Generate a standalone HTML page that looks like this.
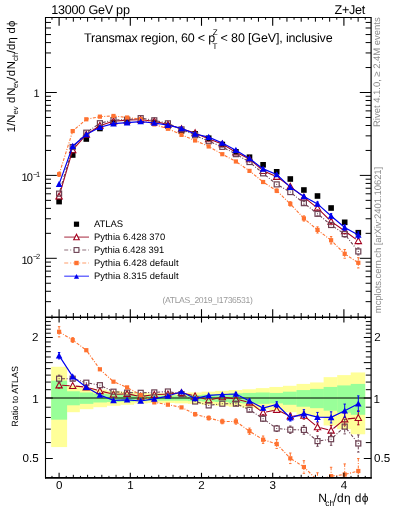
<!DOCTYPE html><html><head><meta charset="utf-8"><style>html,body{margin:0;padding:0;background:#fff;width:393px;height:512px;overflow:hidden}svg{display:block;will-change:transform}text{font-family:"Liberation Sans", sans-serif;text-rendering:geometricPrecision}</style></head><body><svg width="393" height="512" viewBox="0 0 393 512"><rect x="0" y="0" width="393" height="512" fill="#fff"/><defs><clipPath id="cu"><rect x="45.5" y="17.5" width="325.6" height="299.7"/></clipPath><clipPath id="cl"><rect x="45.5" y="317.2" width="325.6" height="160.6"/></clipPath></defs><g clip-path="url(#cl)"><rect x="51.20" y="366.78" width="15.90" height="80.29" fill="#ffff99"/><rect x="66.80" y="385.80" width="13.04" height="26.39" fill="#ffff99"/><rect x="79.54" y="388.11" width="13.86" height="21.05" fill="#ffff99"/><rect x="93.10" y="389.68" width="13.86" height="17.52" fill="#ffff99"/><rect x="106.66" y="390.88" width="13.86" height="14.88" fill="#ffff99"/><rect x="120.22" y="391.69" width="13.86" height="13.12" fill="#ffff99"/><rect x="133.78" y="392.91" width="13.86" height="10.49" fill="#ffff99"/><rect x="147.34" y="393.33" width="13.86" height="9.61" fill="#ffff99"/><rect x="160.90" y="393.33" width="13.86" height="9.61" fill="#ffff99"/><rect x="174.46" y="392.91" width="13.86" height="10.49" fill="#ffff99"/><rect x="188.02" y="392.50" width="13.86" height="11.36" fill="#ffff99"/><rect x="201.58" y="391.69" width="13.86" height="13.12" fill="#ffff99"/><rect x="215.14" y="390.88" width="13.86" height="14.88" fill="#ffff99"/><rect x="228.70" y="390.08" width="13.86" height="16.64" fill="#ffff99"/><rect x="242.26" y="389.28" width="13.86" height="18.40" fill="#ffff99"/><rect x="255.82" y="388.11" width="13.86" height="21.05" fill="#ffff99"/><rect x="269.38" y="386.95" width="13.86" height="23.71" fill="#ffff99"/><rect x="282.94" y="385.80" width="13.86" height="26.39" fill="#ffff99"/><rect x="296.50" y="383.92" width="13.86" height="30.87" fill="#ffff99"/><rect x="310.06" y="382.45" width="13.86" height="34.49" fill="#ffff99"/><rect x="323.62" y="377.14" width="13.86" height="48.34" fill="#ffff99"/><rect x="337.18" y="375.10" width="13.86" height="54.04" fill="#ffff99"/><rect x="350.74" y="372.45" width="14.46" height="61.82" fill="#ffff99"/><rect x="51.20" y="380.64" width="15.90" height="39.05" fill="#99ff99"/><rect x="66.80" y="391.28" width="13.04" height="14.00" fill="#99ff99"/><rect x="79.54" y="392.50" width="13.86" height="11.36" fill="#99ff99"/><rect x="93.10" y="393.74" width="13.86" height="8.74" fill="#99ff99"/><rect x="106.66" y="394.16" width="13.86" height="7.86" fill="#99ff99"/><rect x="120.22" y="394.58" width="13.86" height="6.99" fill="#99ff99"/><rect x="133.78" y="395.00" width="13.86" height="6.11" fill="#99ff99"/><rect x="147.34" y="395.42" width="13.86" height="5.24" fill="#99ff99"/><rect x="160.90" y="395.42" width="13.86" height="5.24" fill="#99ff99"/><rect x="174.46" y="395.42" width="13.86" height="5.24" fill="#99ff99"/><rect x="188.02" y="395.00" width="13.86" height="6.11" fill="#99ff99"/><rect x="201.58" y="394.58" width="13.86" height="6.99" fill="#99ff99"/><rect x="215.14" y="394.16" width="13.86" height="7.86" fill="#99ff99"/><rect x="228.70" y="393.33" width="13.86" height="9.61" fill="#99ff99"/><rect x="242.26" y="392.91" width="13.86" height="10.49" fill="#99ff99"/><rect x="255.82" y="392.50" width="13.86" height="11.36" fill="#99ff99"/><rect x="269.38" y="392.91" width="13.86" height="10.49" fill="#99ff99"/><rect x="282.94" y="391.69" width="13.86" height="13.12" fill="#99ff99"/><rect x="296.50" y="390.08" width="13.86" height="16.64" fill="#99ff99"/><rect x="310.06" y="388.89" width="13.86" height="19.28" fill="#99ff99"/><rect x="323.62" y="386.95" width="13.86" height="23.71" fill="#99ff99"/><rect x="337.18" y="385.42" width="13.86" height="27.28" fill="#99ff99"/><rect x="350.74" y="383.92" width="14.46" height="30.87" fill="#99ff99"/></g><line x1="45.5" y1="398.0" x2="371.1" y2="398.0" stroke="#000" stroke-width="1.0"/><g clip-path="url(#cl)"><path d="M62.10 385.33L69.70 385.67M75.68 386.11L83.32 386.89M89.19 387.99L97.01 390.11M102.81 391.63L110.59 393.57M116.50 394.19L124.10 393.91M130.04 394.38L137.76 395.92M143.67 396.11L151.33 395.09M157.30 394.57L164.90 394.23M170.89 393.81L178.51 393.09M184.42 393.49L192.18 395.31M197.97 396.87L205.83 399.23M211.62 399.43L219.38 397.67M225.26 397.46L232.94 398.64M238.82 399.81L246.58 401.69M251.90 404.20L260.70 410.80M266.04 412.00L273.76 410.40M279.41 411.08L287.59 414.92M293.30 416.07L300.90 415.73M306.19 417.54L315.21 425.16M320.42 427.81L328.18 429.69M333.42 428.49L342.38 421.11M347.68 418.89L355.32 418.11" fill="none" stroke="#a3001e" stroke-width="1.05"/><path d="M57.90 382.32h2.4M57.90 388.08h2.4" stroke="#a3001e" stroke-width="1"/><path d="M248.30 400.65h2.4M248.30 404.15h2.4" stroke="#a3001e" stroke-width="1"/><path d="M261.90 410.52h2.4M261.90 414.68h2.4" stroke="#a3001e" stroke-width="1"/><path d="M275.50 407.32h2.4M275.50 412.28h2.4" stroke="#a3001e" stroke-width="1"/><path d="M289.10 413.23h2.4M289.10 419.17h2.4" stroke="#a3001e" stroke-width="1"/><path d="M303.90 412.06L303.90 412.60M303.90 418.60L303.90 419.14" stroke="#a3001e" stroke-width="1"/><path d="M302.70 412.06h2.4M302.70 419.14h2.4" stroke="#a3001e" stroke-width="1"/><path d="M317.50 422.88L317.50 424.10M317.50 430.10L317.50 431.32" stroke="#a3001e" stroke-width="1"/><path d="M316.30 422.88h2.4M316.30 431.32h2.4" stroke="#a3001e" stroke-width="1"/><path d="M331.10 425.38L331.10 427.40M331.10 433.40L331.10 435.42" stroke="#a3001e" stroke-width="1"/><path d="M329.90 425.38h2.4M329.90 435.42h2.4" stroke="#a3001e" stroke-width="1"/><path d="M344.70 413.25L344.70 416.20M344.70 422.20L344.70 425.15" stroke="#a3001e" stroke-width="1"/><path d="M343.50 413.25h2.4M343.50 425.15h2.4" stroke="#a3001e" stroke-width="1"/><path d="M358.30 410.78L358.30 414.80M358.30 420.80L358.30 424.82" stroke="#a3001e" stroke-width="1"/><path d="M357.10 410.78h2.4M357.10 424.82h2.4" stroke="#a3001e" stroke-width="1"/><polygon points="59.10,382.00 55.90,387.92 62.30,387.92" fill="none" stroke="#a3001e" stroke-width="1.1"/><polygon points="72.70,382.60 69.50,388.52 75.90,388.52" fill="none" stroke="#a3001e" stroke-width="1.1"/><polygon points="86.30,384.00 83.10,389.92 89.50,389.92" fill="none" stroke="#a3001e" stroke-width="1.1"/><polygon points="99.90,387.70 96.70,393.62 103.10,393.62" fill="none" stroke="#a3001e" stroke-width="1.1"/><polygon points="113.50,391.10 110.30,397.02 116.70,397.02" fill="none" stroke="#a3001e" stroke-width="1.1"/><polygon points="127.10,390.60 123.90,396.52 130.30,396.52" fill="none" stroke="#a3001e" stroke-width="1.1"/><polygon points="140.70,393.30 137.50,399.22 143.90,399.22" fill="none" stroke="#a3001e" stroke-width="1.1"/><polygon points="154.30,391.50 151.10,397.42 157.50,397.42" fill="none" stroke="#a3001e" stroke-width="1.1"/><polygon points="167.90,390.90 164.70,396.82 171.10,396.82" fill="none" stroke="#a3001e" stroke-width="1.1"/><polygon points="181.50,389.60 178.30,395.52 184.70,395.52" fill="none" stroke="#a3001e" stroke-width="1.1"/><polygon points="195.10,392.80 191.90,398.72 198.30,398.72" fill="none" stroke="#a3001e" stroke-width="1.1"/><polygon points="208.70,396.90 205.50,402.82 211.90,402.82" fill="none" stroke="#a3001e" stroke-width="1.1"/><polygon points="222.30,393.80 219.10,399.72 225.50,399.72" fill="none" stroke="#a3001e" stroke-width="1.1"/><polygon points="235.90,395.90 232.70,401.82 239.10,401.82" fill="none" stroke="#a3001e" stroke-width="1.1"/><polygon points="249.50,399.20 246.30,405.12 252.70,405.12" fill="none" stroke="#a3001e" stroke-width="1.1"/><polygon points="263.10,409.40 259.90,415.32 266.30,415.32" fill="none" stroke="#a3001e" stroke-width="1.1"/><polygon points="276.70,406.60 273.50,412.52 279.90,412.52" fill="none" stroke="#a3001e" stroke-width="1.1"/><polygon points="290.30,413.00 287.10,418.92 293.50,418.92" fill="none" stroke="#a3001e" stroke-width="1.1"/><polygon points="303.90,412.40 300.70,418.32 307.10,418.32" fill="none" stroke="#a3001e" stroke-width="1.1"/><polygon points="317.50,423.90 314.30,429.82 320.70,429.82" fill="none" stroke="#a3001e" stroke-width="1.1"/><polygon points="331.10,427.20 327.90,433.12 334.30,433.12" fill="none" stroke="#a3001e" stroke-width="1.1"/><polygon points="344.70,416.00 341.50,421.92 347.90,421.92" fill="none" stroke="#a3001e" stroke-width="1.1"/><polygon points="358.30,414.60 355.10,420.52 361.50,420.52" fill="none" stroke="#a3001e" stroke-width="1.1"/><path d="M62.00 378.70L69.80 378.70M75.48 379.52L83.52 381.88M89.15 383.22L97.05 384.68M102.52 386.45L110.88 390.45M116.39 391.89L124.21 392.41M130.00 392.64L137.80 392.76M143.60 392.71L151.40 392.49M157.19 392.21L165.01 391.69M170.75 392.04L178.65 393.56M184.05 395.49L192.55 400.11M197.89 402.30L205.91 404.60M211.58 405.04L219.42 404.06M225.20 403.70L233.00 403.70M238.55 404.87L246.85 408.53M251.92 411.30L260.68 417.10M265.45 420.40L274.35 426.80M279.59 428.75L287.41 429.45M293.20 429.74L301.00 429.86M306.14 431.74L315.26 439.26M320.37 440.70L328.23 439.60M333.23 437.23L342.57 428.57M346.52 428.86L356.48 441.24" fill="none" stroke="#6c4152" stroke-width="1.10" stroke-dasharray="3,1.6,1,1.6"/><path d="M59.10 375.18L59.10 375.80M59.10 381.60L59.10 382.22" stroke="#6c4152" stroke-width="1"/><path d="M57.90 375.18h2.4M57.90 382.22h2.4" stroke="#6c4152" stroke-width="1"/><path d="M71.50 377.06h2.4M71.50 380.34h2.4" stroke="#6c4152" stroke-width="1"/><path d="M234.70 401.88h2.4M234.70 405.52h2.4" stroke="#6c4152" stroke-width="1"/><path d="M248.30 407.56h2.4M248.30 411.84h2.4" stroke="#6c4152" stroke-width="1"/><path d="M261.90 416.16h2.4M261.90 421.24h2.4" stroke="#6c4152" stroke-width="1"/><path d="M276.70 425.47L276.70 425.60M276.70 431.40L276.70 431.53" stroke="#6c4152" stroke-width="1"/><path d="M275.50 425.47h2.4M275.50 431.53h2.4" stroke="#6c4152" stroke-width="1"/><path d="M290.30 426.07L290.30 426.80M290.30 432.60L290.30 433.33" stroke="#6c4152" stroke-width="1"/><path d="M289.10 426.07h2.4M289.10 433.33h2.4" stroke="#6c4152" stroke-width="1"/><path d="M303.90 425.57L303.90 427.00M303.90 432.80L303.90 434.23" stroke="#6c4152" stroke-width="1" stroke-dasharray="3,1.6,1,1.6"/><path d="M302.70 425.57h2.4M302.70 434.23h2.4" stroke="#6c4152" stroke-width="1"/><path d="M317.50 435.94L317.50 438.20M317.50 444.00L317.50 446.26" stroke="#6c4152" stroke-width="1" stroke-dasharray="3,1.6,1,1.6"/><path d="M316.30 435.94h2.4M316.30 446.26h2.4" stroke="#6c4152" stroke-width="1"/><path d="M331.10 433.06L331.10 436.30M331.10 442.10L331.10 445.34" stroke="#6c4152" stroke-width="1" stroke-dasharray="3,1.6,1,1.6"/><path d="M329.90 433.06h2.4M329.90 445.34h2.4" stroke="#6c4152" stroke-width="1"/><path d="M344.70 419.33L344.70 423.70M344.70 429.50L344.70 433.87" stroke="#6c4152" stroke-width="1" stroke-dasharray="3,1.6,1,1.6"/><path d="M343.50 419.33h2.4M343.50 433.87h2.4" stroke="#6c4152" stroke-width="1"/><path d="M358.30 434.92L358.30 440.60M358.30 446.40L358.30 452.08" stroke="#6c4152" stroke-width="1" stroke-dasharray="3,1.6,1,1.6"/><path d="M357.10 434.92h2.4M357.10 452.08h2.4" stroke="#6c4152" stroke-width="1"/><rect x="56.60" y="376.20" width="5.00" height="5.00" fill="none" stroke="#6c4152" stroke-width="1.2"/><rect x="58.60" y="378.20" width="1" height="1" fill="#6c4152"/><rect x="70.20" y="376.20" width="5.00" height="5.00" fill="none" stroke="#6c4152" stroke-width="1.2"/><rect x="72.20" y="378.20" width="1" height="1" fill="#6c4152"/><rect x="83.80" y="380.20" width="5.00" height="5.00" fill="none" stroke="#6c4152" stroke-width="1.2"/><rect x="85.80" y="382.20" width="1" height="1" fill="#6c4152"/><rect x="97.40" y="382.70" width="5.00" height="5.00" fill="none" stroke="#6c4152" stroke-width="1.2"/><rect x="99.40" y="384.70" width="1" height="1" fill="#6c4152"/><rect x="111.00" y="389.20" width="5.00" height="5.00" fill="none" stroke="#6c4152" stroke-width="1.2"/><rect x="113.00" y="391.20" width="1" height="1" fill="#6c4152"/><rect x="124.60" y="390.10" width="5.00" height="5.00" fill="none" stroke="#6c4152" stroke-width="1.2"/><rect x="126.60" y="392.10" width="1" height="1" fill="#6c4152"/><rect x="138.20" y="390.30" width="5.00" height="5.00" fill="none" stroke="#6c4152" stroke-width="1.2"/><rect x="140.20" y="392.30" width="1" height="1" fill="#6c4152"/><rect x="151.80" y="389.90" width="5.00" height="5.00" fill="none" stroke="#6c4152" stroke-width="1.2"/><rect x="153.80" y="391.90" width="1" height="1" fill="#6c4152"/><rect x="165.40" y="389.00" width="5.00" height="5.00" fill="none" stroke="#6c4152" stroke-width="1.2"/><rect x="167.40" y="391.00" width="1" height="1" fill="#6c4152"/><rect x="179.00" y="391.60" width="5.00" height="5.00" fill="none" stroke="#6c4152" stroke-width="1.2"/><rect x="181.00" y="393.60" width="1" height="1" fill="#6c4152"/><rect x="192.60" y="399.00" width="5.00" height="5.00" fill="none" stroke="#6c4152" stroke-width="1.2"/><rect x="194.60" y="401.00" width="1" height="1" fill="#6c4152"/><rect x="206.20" y="402.90" width="5.00" height="5.00" fill="none" stroke="#6c4152" stroke-width="1.2"/><rect x="208.20" y="404.90" width="1" height="1" fill="#6c4152"/><rect x="219.80" y="401.20" width="5.00" height="5.00" fill="none" stroke="#6c4152" stroke-width="1.2"/><rect x="221.80" y="403.20" width="1" height="1" fill="#6c4152"/><rect x="233.40" y="401.20" width="5.00" height="5.00" fill="none" stroke="#6c4152" stroke-width="1.2"/><rect x="235.40" y="403.20" width="1" height="1" fill="#6c4152"/><rect x="247.00" y="407.20" width="5.00" height="5.00" fill="none" stroke="#6c4152" stroke-width="1.2"/><rect x="249.00" y="409.20" width="1" height="1" fill="#6c4152"/><rect x="260.60" y="416.20" width="5.00" height="5.00" fill="none" stroke="#6c4152" stroke-width="1.2"/><rect x="262.60" y="418.20" width="1" height="1" fill="#6c4152"/><rect x="274.20" y="426.00" width="5.00" height="5.00" fill="none" stroke="#6c4152" stroke-width="1.2"/><rect x="276.20" y="428.00" width="1" height="1" fill="#6c4152"/><rect x="287.80" y="427.20" width="5.00" height="5.00" fill="none" stroke="#6c4152" stroke-width="1.2"/><rect x="289.80" y="429.20" width="1" height="1" fill="#6c4152"/><rect x="301.40" y="427.40" width="5.00" height="5.00" fill="none" stroke="#6c4152" stroke-width="1.2"/><rect x="303.40" y="429.40" width="1" height="1" fill="#6c4152"/><rect x="315.00" y="438.60" width="5.00" height="5.00" fill="none" stroke="#6c4152" stroke-width="1.2"/><rect x="317.00" y="440.60" width="1" height="1" fill="#6c4152"/><rect x="328.60" y="436.70" width="5.00" height="5.00" fill="none" stroke="#6c4152" stroke-width="1.2"/><rect x="330.60" y="438.70" width="1" height="1" fill="#6c4152"/><rect x="342.20" y="424.10" width="5.00" height="5.00" fill="none" stroke="#6c4152" stroke-width="1.2"/><rect x="344.20" y="426.10" width="1" height="1" fill="#6c4152"/><rect x="355.80" y="441.00" width="5.00" height="5.00" fill="none" stroke="#6c4152" stroke-width="1.2"/><rect x="357.80" y="443.00" width="1" height="1" fill="#6c4152"/><polyline points="59.10,331.80 72.70,340.00 86.30,350.20 99.90,369.30 113.50,381.70 127.10,387.40 140.70,395.00 154.30,402.40 167.90,404.70 181.50,407.40 195.10,414.20 208.70,418.00 222.30,421.50 235.90,421.50 249.50,431.20 263.10,439.70 276.70,444.00 290.30,458.30 303.90,467.00 317.50,480.30 331.10,476.20 344.70,474.50 358.30,471.00" fill="none" stroke="#ff7230" stroke-width="1.10" stroke-dasharray="3,1.5,1,1.5"/><path d="M59.10 326.68L59.10 331.80M59.10 331.80L59.10 336.92" stroke="#ff7230" stroke-width="1" stroke-dasharray="3,1.5,1,1.5"/><path d="M57.90 326.68h2.4M57.90 336.92h2.4" stroke="#ff7230" stroke-width="1"/><path d="M72.70 337.62L72.70 340.00M72.70 340.00L72.70 342.38" stroke="#ff7230" stroke-width="1"/><path d="M71.50 337.62h2.4M71.50 342.38h2.4" stroke="#ff7230" stroke-width="1"/><path d="M195.10 412.44L195.10 414.20M195.10 414.20L195.10 415.96" stroke="#ff7230" stroke-width="1"/><path d="M193.90 412.44h2.4M193.90 415.96h2.4" stroke="#ff7230" stroke-width="1"/><path d="M208.70 416.02L208.70 418.00M208.70 418.00L208.70 419.98" stroke="#ff7230" stroke-width="1"/><path d="M207.50 416.02h2.4M207.50 419.98h2.4" stroke="#ff7230" stroke-width="1"/><path d="M222.30 419.23L222.30 421.50M222.30 421.50L222.30 423.77" stroke="#ff7230" stroke-width="1"/><path d="M221.10 419.23h2.4M221.10 423.77h2.4" stroke="#ff7230" stroke-width="1"/><path d="M235.90 418.85L235.90 421.50M235.90 421.50L235.90 424.15" stroke="#ff7230" stroke-width="1"/><path d="M234.70 418.85h2.4M234.70 424.15h2.4" stroke="#ff7230" stroke-width="1"/><path d="M249.50 428.08L249.50 431.20M249.50 431.20L249.50 434.32" stroke="#ff7230" stroke-width="1"/><path d="M248.30 428.08h2.4M248.30 434.32h2.4" stroke="#ff7230" stroke-width="1"/><path d="M263.10 436.00L263.10 439.70M263.10 439.70L263.10 443.40" stroke="#ff7230" stroke-width="1"/><path d="M261.90 436.00h2.4M261.90 443.40h2.4" stroke="#ff7230" stroke-width="1"/><path d="M276.70 439.59L276.70 444.00M276.70 444.00L276.70 448.41" stroke="#ff7230" stroke-width="1" stroke-dasharray="3,1.5,1,1.5"/><path d="M275.50 439.59h2.4M275.50 448.41h2.4" stroke="#ff7230" stroke-width="1"/><path d="M290.30 453.03L290.30 458.30M290.30 458.30L290.30 463.57" stroke="#ff7230" stroke-width="1" stroke-dasharray="3,1.5,1,1.5"/><path d="M289.10 453.03h2.4M289.10 463.57h2.4" stroke="#ff7230" stroke-width="1"/><path d="M303.90 460.70L303.90 467.00M303.90 467.00L303.90 473.30" stroke="#ff7230" stroke-width="1" stroke-dasharray="3,1.5,1,1.5"/><path d="M302.70 460.70h2.4M302.70 473.30h2.4" stroke="#ff7230" stroke-width="1"/><path d="M317.50 472.79L317.50 480.30M317.50 480.30L317.50 487.81" stroke="#ff7230" stroke-width="1" stroke-dasharray="3,1.5,1,1.5"/><path d="M316.30 472.79h2.4M316.30 487.81h2.4" stroke="#ff7230" stroke-width="1"/><path d="M331.10 467.27L331.10 476.20M331.10 476.20L331.10 485.13" stroke="#ff7230" stroke-width="1" stroke-dasharray="3,1.5,1,1.5"/><path d="M329.90 467.27h2.4M329.90 485.13h2.4" stroke="#ff7230" stroke-width="1"/><path d="M344.70 463.92L344.70 474.50M344.70 474.50L344.70 485.08" stroke="#ff7230" stroke-width="1" stroke-dasharray="3,1.5,1,1.5"/><path d="M343.50 463.92h2.4M343.50 485.08h2.4" stroke="#ff7230" stroke-width="1"/><path d="M358.30 458.52L358.30 471.00M358.30 471.00L358.30 483.48" stroke="#ff7230" stroke-width="1" stroke-dasharray="3,1.5,1,1.5"/><path d="M357.10 458.52h2.4M357.10 483.48h2.4" stroke="#ff7230" stroke-width="1"/><rect x="57.00" y="329.70" width="4.20" height="4.20" fill="#ff7230"/><rect x="70.60" y="337.90" width="4.20" height="4.20" fill="#ff7230"/><rect x="84.20" y="348.10" width="4.20" height="4.20" fill="#ff7230"/><rect x="97.80" y="367.20" width="4.20" height="4.20" fill="#ff7230"/><rect x="111.40" y="379.60" width="4.20" height="4.20" fill="#ff7230"/><rect x="125.00" y="385.30" width="4.20" height="4.20" fill="#ff7230"/><rect x="138.60" y="392.90" width="4.20" height="4.20" fill="#ff7230"/><rect x="152.20" y="400.30" width="4.20" height="4.20" fill="#ff7230"/><rect x="165.80" y="402.60" width="4.20" height="4.20" fill="#ff7230"/><rect x="179.40" y="405.30" width="4.20" height="4.20" fill="#ff7230"/><rect x="193.00" y="412.10" width="4.20" height="4.20" fill="#ff7230"/><rect x="206.60" y="415.90" width="4.20" height="4.20" fill="#ff7230"/><rect x="220.20" y="419.40" width="4.20" height="4.20" fill="#ff7230"/><rect x="233.80" y="419.40" width="4.20" height="4.20" fill="#ff7230"/><rect x="247.40" y="429.10" width="4.20" height="4.20" fill="#ff7230"/><rect x="261.00" y="437.60" width="4.20" height="4.20" fill="#ff7230"/><rect x="274.60" y="441.90" width="4.20" height="4.20" fill="#ff7230"/><rect x="288.20" y="456.20" width="4.20" height="4.20" fill="#ff7230"/><rect x="301.80" y="464.90" width="4.20" height="4.20" fill="#ff7230"/><rect x="315.40" y="478.20" width="4.20" height="4.20" fill="#ff7230"/><rect x="329.00" y="474.10" width="4.20" height="4.20" fill="#ff7230"/><rect x="342.60" y="472.40" width="4.20" height="4.20" fill="#ff7230"/><rect x="356.20" y="468.90" width="4.20" height="4.20" fill="#ff7230"/><polyline points="59.10,355.70 72.70,376.60 86.30,387.20 99.90,395.00 113.50,400.40 127.10,399.80 140.70,401.00 154.30,398.90 167.90,396.00 181.50,391.80 195.10,398.50 208.70,395.40 222.30,394.50 235.90,394.00 249.50,401.00 263.10,408.00 276.70,404.50 290.30,417.70 303.90,413.60 317.50,417.10 331.10,417.40 344.70,410.70 358.30,403.70" fill="none" stroke="#0000ee" stroke-width="1.20"/><path d="M59.10 352.50L59.10 355.70M59.10 355.70L59.10 358.90" stroke="#0000ee" stroke-width="1"/><path d="M57.90 352.50h2.4M57.90 358.90h2.4" stroke="#0000ee" stroke-width="1"/><path d="M235.90 392.35L235.90 394.00M235.90 394.00L235.90 395.65" stroke="#0000ee" stroke-width="1"/><path d="M234.70 392.35h2.4M234.70 395.65h2.4" stroke="#0000ee" stroke-width="1"/><path d="M249.50 399.05L249.50 401.00M249.50 401.00L249.50 402.95" stroke="#0000ee" stroke-width="1"/><path d="M248.30 399.05h2.4M248.30 402.95h2.4" stroke="#0000ee" stroke-width="1"/><path d="M263.10 405.69L263.10 408.00M263.10 408.00L263.10 410.31" stroke="#0000ee" stroke-width="1"/><path d="M261.90 405.69h2.4M261.90 410.31h2.4" stroke="#0000ee" stroke-width="1"/><path d="M276.70 401.74L276.70 404.50M276.70 404.50L276.70 407.26" stroke="#0000ee" stroke-width="1"/><path d="M275.50 401.74h2.4M275.50 407.26h2.4" stroke="#0000ee" stroke-width="1"/><path d="M290.30 414.40L290.30 417.70M290.30 417.70L290.30 421.00" stroke="#0000ee" stroke-width="1"/><path d="M289.10 414.40h2.4M289.10 421.00h2.4" stroke="#0000ee" stroke-width="1"/><path d="M303.90 409.66L303.90 413.60M303.90 413.60L303.90 417.54" stroke="#0000ee" stroke-width="1"/><path d="M302.70 409.66h2.4M302.70 417.54h2.4" stroke="#0000ee" stroke-width="1"/><path d="M317.50 412.41L317.50 417.10M317.50 417.10L317.50 421.79" stroke="#0000ee" stroke-width="1"/><path d="M316.30 412.41h2.4M316.30 421.79h2.4" stroke="#0000ee" stroke-width="1"/><path d="M331.10 411.82L331.10 417.40M331.10 417.40L331.10 422.98" stroke="#0000ee" stroke-width="1"/><path d="M329.90 411.82h2.4M329.90 422.98h2.4" stroke="#0000ee" stroke-width="1"/><path d="M344.70 404.09L344.70 410.70M344.70 410.70L344.70 417.31" stroke="#0000ee" stroke-width="1"/><path d="M343.50 404.09h2.4M343.50 417.31h2.4" stroke="#0000ee" stroke-width="1"/><path d="M358.30 395.90L358.30 403.70M358.30 403.70L358.30 411.50" stroke="#0000ee" stroke-width="1"/><path d="M357.10 395.90h2.4M357.10 411.50h2.4" stroke="#0000ee" stroke-width="1"/><polygon points="59.10,352.40 55.80,358.50 62.40,358.50" fill="#0000ee"/><polygon points="72.70,373.30 69.40,379.41 76.00,379.41" fill="#0000ee"/><polygon points="86.30,383.90 83.00,390.00 89.60,390.00" fill="#0000ee"/><polygon points="99.90,391.70 96.60,397.81 103.20,397.81" fill="#0000ee"/><polygon points="113.50,397.10 110.20,403.20 116.80,403.20" fill="#0000ee"/><polygon points="127.10,396.50 123.80,402.61 130.40,402.61" fill="#0000ee"/><polygon points="140.70,397.70 137.40,403.81 144.00,403.81" fill="#0000ee"/><polygon points="154.30,395.60 151.00,401.70 157.60,401.70" fill="#0000ee"/><polygon points="167.90,392.70 164.60,398.81 171.20,398.81" fill="#0000ee"/><polygon points="181.50,388.50 178.20,394.61 184.80,394.61" fill="#0000ee"/><polygon points="195.10,395.20 191.80,401.31 198.40,401.31" fill="#0000ee"/><polygon points="208.70,392.10 205.40,398.20 212.00,398.20" fill="#0000ee"/><polygon points="222.30,391.20 219.00,397.31 225.60,397.31" fill="#0000ee"/><polygon points="235.90,390.70 232.60,396.81 239.20,396.81" fill="#0000ee"/><polygon points="249.50,397.70 246.20,403.81 252.80,403.81" fill="#0000ee"/><polygon points="263.10,404.70 259.80,410.81 266.40,410.81" fill="#0000ee"/><polygon points="276.70,401.20 273.40,407.31 280.00,407.31" fill="#0000ee"/><polygon points="290.30,414.40 287.00,420.50 293.60,420.50" fill="#0000ee"/><polygon points="303.90,410.30 300.60,416.41 307.20,416.41" fill="#0000ee"/><polygon points="317.50,413.80 314.20,419.91 320.80,419.91" fill="#0000ee"/><polygon points="331.10,414.10 327.80,420.20 334.40,420.20" fill="#0000ee"/><polygon points="344.70,407.40 341.40,413.50 348.00,413.50" fill="#0000ee"/><polygon points="358.30,400.40 355.00,406.50 361.60,406.50" fill="#0000ee"/></g><g clip-path="url(#cu)"><rect x="56.30" y="198.80" width="5.60" height="5.60" fill="#000"/><rect x="69.90" y="152.20" width="5.60" height="5.60" fill="#000"/><rect x="83.50" y="136.20" width="5.60" height="5.60" fill="#000"/><rect x="97.10" y="125.70" width="5.60" height="5.60" fill="#000"/><rect x="110.70" y="119.90" width="5.60" height="5.60" fill="#000"/><rect x="124.30" y="119.10" width="5.60" height="5.60" fill="#000"/><rect x="137.90" y="117.50" width="5.60" height="5.60" fill="#000"/><rect x="151.50" y="119.80" width="5.60" height="5.60" fill="#000"/><rect x="165.10" y="123.20" width="5.60" height="5.60" fill="#000"/><rect x="178.70" y="128.20" width="5.60" height="5.60" fill="#000"/><rect x="192.30" y="131.00" width="5.60" height="5.60" fill="#000"/><rect x="205.90" y="135.40" width="5.60" height="5.60" fill="#000"/><rect x="219.50" y="141.70" width="5.60" height="5.60" fill="#000"/><rect x="233.10" y="149.00" width="5.60" height="5.60" fill="#000"/><rect x="246.70" y="154.40" width="5.60" height="5.60" fill="#000"/><rect x="260.30" y="162.00" width="5.60" height="5.60" fill="#000"/><rect x="273.90" y="169.00" width="5.60" height="5.60" fill="#000"/><rect x="287.50" y="176.20" width="5.60" height="5.60" fill="#000"/><rect x="301.10" y="187.20" width="5.60" height="5.60" fill="#000"/><rect x="314.70" y="193.20" width="5.60" height="5.60" fill="#000"/><rect x="328.30" y="205.20" width="5.60" height="5.60" fill="#000"/><rect x="341.90" y="219.50" width="5.60" height="5.60" fill="#000"/><rect x="355.50" y="229.90" width="5.60" height="5.60" fill="#000"/><path d="M59.94 193.44L71.86 152.85M74.68 147.72L84.32 136.80M88.80 132.89L97.40 127.22M102.75 124.65L110.65 122.10M116.49 120.95L124.11 120.39M130.10 120.06L137.70 119.79M143.68 120.02L151.32 120.90M157.22 121.92L164.98 123.71M170.75 125.33L178.65 127.92M184.37 129.73L192.23 132.11M197.84 134.20L205.96 137.84M211.51 140.11L219.49 143.05M224.87 145.63L233.33 150.71M238.59 153.59L246.81 157.68M251.77 160.98L260.83 168.85M265.86 172.01L273.94 175.48M279.13 178.43L287.87 184.75M292.65 188.37L301.55 195.40M306.25 199.12L315.15 206.14M319.64 210.10L328.96 219.26M333.54 223.10L342.26 229.30M347.13 232.80L355.87 239.11" fill="none" stroke="#a3001e" stroke-width="1.05"/><path d="M316.30 206.26h2.4M316.30 209.74h2.4" stroke="#a3001e" stroke-width="1"/><path d="M329.90 219.29h2.4M329.90 223.43h2.4" stroke="#a3001e" stroke-width="1"/><path d="M343.50 228.59h2.4M343.50 233.50h2.4" stroke="#a3001e" stroke-width="1"/><path d="M357.10 237.97h2.4M357.10 243.76h2.4" stroke="#a3001e" stroke-width="1"/><polygon points="59.10,193.12 55.90,199.04 62.30,199.04" fill="none" stroke="#a3001e" stroke-width="1.1"/><polygon points="72.70,146.77 69.50,152.69 75.90,152.69" fill="none" stroke="#a3001e" stroke-width="1.1"/><polygon points="86.30,131.35 83.10,137.27 89.50,137.27" fill="none" stroke="#a3001e" stroke-width="1.1"/><polygon points="99.90,122.37 96.70,128.29 103.10,128.29" fill="none" stroke="#a3001e" stroke-width="1.1"/><polygon points="113.50,117.97 110.30,123.89 116.70,123.89" fill="none" stroke="#a3001e" stroke-width="1.1"/><polygon points="127.10,116.97 123.90,122.89 130.30,122.89" fill="none" stroke="#a3001e" stroke-width="1.1"/><polygon points="140.70,116.48 137.50,122.40 143.90,122.40" fill="none" stroke="#a3001e" stroke-width="1.1"/><polygon points="154.30,118.04 151.10,123.96 157.50,123.96" fill="none" stroke="#a3001e" stroke-width="1.1"/><polygon points="167.90,121.19 164.70,127.11 171.10,127.11" fill="none" stroke="#a3001e" stroke-width="1.1"/><polygon points="181.50,125.66 178.30,131.58 184.70,131.58" fill="none" stroke="#a3001e" stroke-width="1.1"/><polygon points="195.10,129.78 191.90,135.70 198.30,135.70" fill="none" stroke="#a3001e" stroke-width="1.1"/><polygon points="208.70,135.87 205.50,141.79 211.90,141.79" fill="none" stroke="#a3001e" stroke-width="1.1"/><polygon points="222.30,140.89 219.10,146.81 225.50,146.81" fill="none" stroke="#a3001e" stroke-width="1.1"/><polygon points="235.90,149.05 232.70,154.97 239.10,154.97" fill="none" stroke="#a3001e" stroke-width="1.1"/><polygon points="249.50,155.81 246.30,161.73 252.70,161.73" fill="none" stroke="#a3001e" stroke-width="1.1"/><polygon points="263.10,167.62 259.90,173.54 266.30,173.54" fill="none" stroke="#a3001e" stroke-width="1.1"/><polygon points="276.70,173.47 273.50,179.39 279.90,179.39" fill="none" stroke="#a3001e" stroke-width="1.1"/><polygon points="290.30,183.31 287.10,189.23 293.50,189.23" fill="none" stroke="#a3001e" stroke-width="1.1"/><polygon points="303.90,194.06 300.70,199.98 307.10,199.98" fill="none" stroke="#a3001e" stroke-width="1.1"/><polygon points="317.50,204.80 314.30,210.72 320.70,210.72" fill="none" stroke="#a3001e" stroke-width="1.1"/><polygon points="331.10,218.16 327.90,224.08 334.30,224.08" fill="none" stroke="#a3001e" stroke-width="1.1"/><polygon points="344.70,227.84 341.50,233.76 347.90,233.76" fill="none" stroke="#a3001e" stroke-width="1.1"/><polygon points="358.30,237.67 355.10,243.59 361.50,243.59" fill="none" stroke="#a3001e" stroke-width="1.1"/><path d="M59.91 190.86L71.89 149.82M74.69 144.94L84.31 134.79M88.68 131.03L97.52 124.88M102.73 122.57L110.67 120.75M116.40 120.01L124.20 119.76M129.98 119.35L137.82 118.48M143.56 118.61L151.44 119.84M157.13 120.92L165.07 122.69M170.55 124.50L178.85 128.21M184.16 130.54L192.44 134.10M197.75 136.42L206.05 140.08M211.38 142.36L219.62 145.75M224.86 148.22L233.34 152.78M238.41 155.60L246.99 160.57M251.73 163.88L260.87 171.48M265.35 175.17L274.45 182.55M279.22 185.81L287.78 190.65M292.55 193.91L301.65 201.32M306.19 204.94L315.21 211.99M319.74 215.62L328.86 223.15M333.51 226.61L342.29 232.48M346.49 236.38L356.51 249.18" fill="none" stroke="#6c4152" stroke-width="1.10" stroke-dasharray="3,1.6,1,1.6"/><path d="M302.70 201.37h2.4M302.70 204.94h2.4" stroke="#6c4152" stroke-width="1"/><path d="M316.30 211.65h2.4M316.30 215.91h2.4" stroke="#6c4152" stroke-width="1"/><path d="M329.90 222.46h2.4M329.90 227.52h2.4" stroke="#6c4152" stroke-width="1"/><path d="M344.70 231.10L344.70 231.20M344.70 237.00L344.70 237.10" stroke="#6c4152" stroke-width="1"/><path d="M343.50 231.10h2.4M343.50 237.10h2.4" stroke="#6c4152" stroke-width="1"/><path d="M358.30 247.93L358.30 248.57M358.30 254.37L358.30 255.00" stroke="#6c4152" stroke-width="1"/><path d="M357.10 247.93h2.4M357.10 255.00h2.4" stroke="#6c4152" stroke-width="1"/><rect x="56.60" y="191.14" width="5.00" height="5.00" fill="none" stroke="#6c4152" stroke-width="1.2"/><rect x="58.60" y="193.14" width="1" height="1" fill="#6c4152"/><rect x="70.20" y="144.54" width="5.00" height="5.00" fill="none" stroke="#6c4152" stroke-width="1.2"/><rect x="72.20" y="146.54" width="1" height="1" fill="#6c4152"/><rect x="83.80" y="130.19" width="5.00" height="5.00" fill="none" stroke="#6c4152" stroke-width="1.2"/><rect x="85.80" y="132.19" width="1" height="1" fill="#6c4152"/><rect x="97.40" y="120.72" width="5.00" height="5.00" fill="none" stroke="#6c4152" stroke-width="1.2"/><rect x="99.40" y="122.72" width="1" height="1" fill="#6c4152"/><rect x="111.00" y="117.60" width="5.00" height="5.00" fill="none" stroke="#6c4152" stroke-width="1.2"/><rect x="113.00" y="119.60" width="1" height="1" fill="#6c4152"/><rect x="124.60" y="117.17" width="5.00" height="5.00" fill="none" stroke="#6c4152" stroke-width="1.2"/><rect x="126.60" y="119.17" width="1" height="1" fill="#6c4152"/><rect x="138.20" y="115.66" width="5.00" height="5.00" fill="none" stroke="#6c4152" stroke-width="1.2"/><rect x="140.20" y="117.66" width="1" height="1" fill="#6c4152"/><rect x="151.80" y="117.79" width="5.00" height="5.00" fill="none" stroke="#6c4152" stroke-width="1.2"/><rect x="153.80" y="119.79" width="1" height="1" fill="#6c4152"/><rect x="165.40" y="120.82" width="5.00" height="5.00" fill="none" stroke="#6c4152" stroke-width="1.2"/><rect x="167.40" y="122.82" width="1" height="1" fill="#6c4152"/><rect x="179.00" y="126.89" width="5.00" height="5.00" fill="none" stroke="#6c4152" stroke-width="1.2"/><rect x="181.00" y="128.89" width="1" height="1" fill="#6c4152"/><rect x="192.60" y="132.74" width="5.00" height="5.00" fill="none" stroke="#6c4152" stroke-width="1.2"/><rect x="194.60" y="134.74" width="1" height="1" fill="#6c4152"/><rect x="206.20" y="138.75" width="5.00" height="5.00" fill="none" stroke="#6c4152" stroke-width="1.2"/><rect x="208.20" y="140.75" width="1" height="1" fill="#6c4152"/><rect x="219.80" y="144.35" width="5.00" height="5.00" fill="none" stroke="#6c4152" stroke-width="1.2"/><rect x="221.80" y="146.35" width="1" height="1" fill="#6c4152"/><rect x="233.40" y="151.65" width="5.00" height="5.00" fill="none" stroke="#6c4152" stroke-width="1.2"/><rect x="235.40" y="153.65" width="1" height="1" fill="#6c4152"/><rect x="247.00" y="159.53" width="5.00" height="5.00" fill="none" stroke="#6c4152" stroke-width="1.2"/><rect x="249.00" y="161.53" width="1" height="1" fill="#6c4152"/><rect x="260.60" y="170.84" width="5.00" height="5.00" fill="none" stroke="#6c4152" stroke-width="1.2"/><rect x="262.60" y="172.84" width="1" height="1" fill="#6c4152"/><rect x="274.20" y="181.88" width="5.00" height="5.00" fill="none" stroke="#6c4152" stroke-width="1.2"/><rect x="276.20" y="183.88" width="1" height="1" fill="#6c4152"/><rect x="287.80" y="189.57" width="5.00" height="5.00" fill="none" stroke="#6c4152" stroke-width="1.2"/><rect x="289.80" y="191.57" width="1" height="1" fill="#6c4152"/><rect x="301.40" y="200.66" width="5.00" height="5.00" fill="none" stroke="#6c4152" stroke-width="1.2"/><rect x="303.40" y="202.66" width="1" height="1" fill="#6c4152"/><rect x="315.00" y="211.28" width="5.00" height="5.00" fill="none" stroke="#6c4152" stroke-width="1.2"/><rect x="317.00" y="213.28" width="1" height="1" fill="#6c4152"/><rect x="328.60" y="222.49" width="5.00" height="5.00" fill="none" stroke="#6c4152" stroke-width="1.2"/><rect x="330.60" y="224.49" width="1" height="1" fill="#6c4152"/><rect x="342.20" y="231.60" width="5.00" height="5.00" fill="none" stroke="#6c4152" stroke-width="1.2"/><rect x="344.20" y="233.60" width="1" height="1" fill="#6c4152"/><rect x="355.80" y="248.97" width="5.00" height="5.00" fill="none" stroke="#6c4152" stroke-width="1.2"/><rect x="357.80" y="250.97" width="1" height="1" fill="#6c4152"/><polyline points="59.10,174.30 72.70,131.08 86.30,119.29 99.90,116.66 113.50,115.98 127.10,117.53 140.70,119.06 154.30,124.41 167.90,128.76 181.50,134.88 195.10,140.48 208.70,146.45 222.30,154.19 235.90,161.49 249.50,170.89 263.10,182.00 276.70,190.77 290.30,203.87 303.90,218.46 317.50,229.94 331.10,240.25 344.70,253.85 358.30,262.81" fill="none" stroke="#ff7230" stroke-width="1.10" stroke-dasharray="3,1.5,1,1.5"/><path d="M59.10 172.18L59.10 174.30M59.10 174.30L59.10 176.41" stroke="#ff7230" stroke-width="1"/><path d="M57.90 172.18h2.4M57.90 176.41h2.4" stroke="#ff7230" stroke-width="1"/><path d="M276.70 188.95L276.70 190.77M276.70 190.77L276.70 192.59" stroke="#ff7230" stroke-width="1"/><path d="M275.50 188.95h2.4M275.50 192.59h2.4" stroke="#ff7230" stroke-width="1"/><path d="M290.30 201.70L290.30 203.87M290.30 203.87L290.30 206.04" stroke="#ff7230" stroke-width="1"/><path d="M289.10 201.70h2.4M289.10 206.04h2.4" stroke="#ff7230" stroke-width="1"/><path d="M303.90 215.86L303.90 218.46M303.90 218.46L303.90 221.06" stroke="#ff7230" stroke-width="1"/><path d="M302.70 215.86h2.4M302.70 221.06h2.4" stroke="#ff7230" stroke-width="1"/><path d="M317.50 226.85L317.50 229.94M317.50 229.94L317.50 233.04" stroke="#ff7230" stroke-width="1"/><path d="M316.30 226.85h2.4M316.30 233.04h2.4" stroke="#ff7230" stroke-width="1"/><path d="M331.10 236.57L331.10 240.25M331.10 240.25L331.10 243.94" stroke="#ff7230" stroke-width="1"/><path d="M329.90 236.57h2.4M329.90 243.94h2.4" stroke="#ff7230" stroke-width="1"/><path d="M344.70 249.49L344.70 253.85M344.70 253.85L344.70 258.21" stroke="#ff7230" stroke-width="1" stroke-dasharray="3,1.5,1,1.5"/><path d="M343.50 249.49h2.4M343.50 258.21h2.4" stroke="#ff7230" stroke-width="1"/><path d="M358.30 257.66L358.30 262.81M358.30 262.81L358.30 267.96" stroke="#ff7230" stroke-width="1" stroke-dasharray="3,1.5,1,1.5"/><path d="M357.10 257.66h2.4M357.10 267.96h2.4" stroke="#ff7230" stroke-width="1"/><rect x="57.00" y="172.20" width="4.20" height="4.20" fill="#ff7230"/><rect x="70.60" y="128.98" width="4.20" height="4.20" fill="#ff7230"/><rect x="84.20" y="117.19" width="4.20" height="4.20" fill="#ff7230"/><rect x="97.80" y="114.56" width="4.20" height="4.20" fill="#ff7230"/><rect x="111.40" y="113.88" width="4.20" height="4.20" fill="#ff7230"/><rect x="125.00" y="115.43" width="4.20" height="4.20" fill="#ff7230"/><rect x="138.60" y="116.96" width="4.20" height="4.20" fill="#ff7230"/><rect x="152.20" y="122.31" width="4.20" height="4.20" fill="#ff7230"/><rect x="165.80" y="126.66" width="4.20" height="4.20" fill="#ff7230"/><rect x="179.40" y="132.78" width="4.20" height="4.20" fill="#ff7230"/><rect x="193.00" y="138.38" width="4.20" height="4.20" fill="#ff7230"/><rect x="206.60" y="144.35" width="4.20" height="4.20" fill="#ff7230"/><rect x="220.20" y="152.09" width="4.20" height="4.20" fill="#ff7230"/><rect x="233.80" y="159.39" width="4.20" height="4.20" fill="#ff7230"/><rect x="247.40" y="168.79" width="4.20" height="4.20" fill="#ff7230"/><rect x="261.00" y="179.90" width="4.20" height="4.20" fill="#ff7230"/><rect x="274.60" y="188.67" width="4.20" height="4.20" fill="#ff7230"/><rect x="288.20" y="201.77" width="4.20" height="4.20" fill="#ff7230"/><rect x="301.80" y="216.36" width="4.20" height="4.20" fill="#ff7230"/><rect x="315.40" y="227.84" width="4.20" height="4.20" fill="#ff7230"/><rect x="329.00" y="238.15" width="4.20" height="4.20" fill="#ff7230"/><rect x="342.60" y="251.75" width="4.20" height="4.20" fill="#ff7230"/><rect x="356.20" y="260.71" width="4.20" height="4.20" fill="#ff7230"/><polyline points="59.10,184.15 72.70,146.17 86.30,134.55 99.90,127.26 113.50,123.69 127.10,122.64 140.70,121.54 154.30,122.97 167.90,125.18 181.50,128.44 195.10,134.01 208.70,137.13 222.30,143.06 235.90,150.15 249.50,158.44 263.10,168.92 276.70,174.48 290.30,187.13 303.90,196.43 317.50,203.88 331.10,216.00 344.70,227.54 358.30,235.05" fill="none" stroke="#0000ee" stroke-width="1.20"/><path d="M303.90 194.81L303.90 196.43M303.90 196.43L303.90 198.06" stroke="#0000ee" stroke-width="1"/><path d="M302.70 194.81h2.4M302.70 198.06h2.4" stroke="#0000ee" stroke-width="1"/><path d="M317.50 201.94L317.50 203.88M317.50 203.88L317.50 205.81" stroke="#0000ee" stroke-width="1"/><path d="M316.30 201.94h2.4M316.30 205.81h2.4" stroke="#0000ee" stroke-width="1"/><path d="M331.10 213.70L331.10 216.00M331.10 216.00L331.10 218.30" stroke="#0000ee" stroke-width="1"/><path d="M329.90 213.70h2.4M329.90 218.30h2.4" stroke="#0000ee" stroke-width="1"/><path d="M344.70 224.81L344.70 227.54M344.70 227.54L344.70 230.26" stroke="#0000ee" stroke-width="1"/><path d="M343.50 224.81h2.4M343.50 230.26h2.4" stroke="#0000ee" stroke-width="1"/><path d="M358.30 231.83L358.30 235.05M358.30 235.05L358.30 238.27" stroke="#0000ee" stroke-width="1"/><path d="M357.10 231.83h2.4M357.10 238.27h2.4" stroke="#0000ee" stroke-width="1"/><polygon points="59.10,180.85 55.80,186.96 62.40,186.96" fill="#0000ee"/><polygon points="72.70,142.87 69.40,148.98 76.00,148.98" fill="#0000ee"/><polygon points="86.30,131.25 83.00,137.35 89.60,137.35" fill="#0000ee"/><polygon points="99.90,123.96 96.60,130.07 103.20,130.07" fill="#0000ee"/><polygon points="113.50,120.39 110.20,126.49 116.80,126.49" fill="#0000ee"/><polygon points="127.10,119.34 123.80,125.45 130.40,125.45" fill="#0000ee"/><polygon points="140.70,118.24 137.40,124.34 144.00,124.34" fill="#0000ee"/><polygon points="154.30,119.67 151.00,125.78 157.60,125.78" fill="#0000ee"/><polygon points="167.90,121.88 164.60,127.98 171.20,127.98" fill="#0000ee"/><polygon points="181.50,125.14 178.20,131.25 184.80,131.25" fill="#0000ee"/><polygon points="195.10,130.71 191.80,136.81 198.40,136.81" fill="#0000ee"/><polygon points="208.70,133.83 205.40,139.93 212.00,139.93" fill="#0000ee"/><polygon points="222.30,139.76 219.00,145.86 225.60,145.86" fill="#0000ee"/><polygon points="235.90,146.85 232.60,152.96 239.20,152.96" fill="#0000ee"/><polygon points="249.50,155.14 246.20,161.24 252.80,161.24" fill="#0000ee"/><polygon points="263.10,165.62 259.80,171.73 266.40,171.73" fill="#0000ee"/><polygon points="276.70,171.18 273.40,177.29 280.00,177.29" fill="#0000ee"/><polygon points="290.30,183.83 287.00,189.93 293.60,189.93" fill="#0000ee"/><polygon points="303.90,193.13 300.60,199.24 307.20,199.24" fill="#0000ee"/><polygon points="317.50,200.58 314.20,206.68 320.80,206.68" fill="#0000ee"/><polygon points="331.10,212.70 327.80,218.81 334.40,218.81" fill="#0000ee"/><polygon points="344.70,224.24 341.40,230.34 348.00,230.34" fill="#0000ee"/><polygon points="358.30,231.75 355.00,237.86 361.60,237.86" fill="#0000ee"/></g><line x1="45.50" y1="17.50" x2="371.10" y2="17.50" stroke="#000" stroke-width="1.10"/><line x1="45.50" y1="17.00" x2="45.50" y2="478.60" stroke="#000" stroke-width="1.10"/><line x1="371.10" y1="17.00" x2="371.10" y2="478.60" stroke="#000" stroke-width="1.20"/><line x1="45.50" y1="317.20" x2="371.10" y2="317.20" stroke="#000" stroke-width="1.50"/><line x1="45.00" y1="477.80" x2="371.70" y2="477.80" stroke="#000" stroke-width="1.70"/><line x1="51.98" y1="17.50" x2="51.98" y2="19.70" stroke="#000" stroke-width="1.00"/><line x1="51.98" y1="317.20" x2="51.98" y2="314.90" stroke="#000" stroke-width="1.00"/><line x1="51.98" y1="317.20" x2="51.98" y2="319.10" stroke="#000" stroke-width="1.00"/><line x1="51.98" y1="477.80" x2="51.98" y2="475.90" stroke="#000" stroke-width="1.00"/><line x1="59.10" y1="17.50" x2="59.10" y2="25.80" stroke="#000" stroke-width="1.10"/><line x1="59.10" y1="317.20" x2="59.10" y2="309.20" stroke="#000" stroke-width="1.10"/><line x1="59.10" y1="317.20" x2="59.10" y2="322.60" stroke="#000" stroke-width="1.10"/><line x1="59.10" y1="477.80" x2="59.10" y2="472.80" stroke="#000" stroke-width="1.10"/><line x1="66.22" y1="17.50" x2="66.22" y2="19.70" stroke="#000" stroke-width="1.00"/><line x1="66.22" y1="317.20" x2="66.22" y2="314.90" stroke="#000" stroke-width="1.00"/><line x1="66.22" y1="317.20" x2="66.22" y2="319.10" stroke="#000" stroke-width="1.00"/><line x1="66.22" y1="477.80" x2="66.22" y2="475.90" stroke="#000" stroke-width="1.00"/><line x1="73.34" y1="17.50" x2="73.34" y2="21.70" stroke="#000" stroke-width="1.00"/><line x1="73.34" y1="317.20" x2="73.34" y2="313.00" stroke="#000" stroke-width="1.00"/><line x1="73.34" y1="317.20" x2="73.34" y2="319.90" stroke="#000" stroke-width="1.00"/><line x1="73.34" y1="477.80" x2="73.34" y2="474.80" stroke="#000" stroke-width="1.00"/><line x1="80.46" y1="17.50" x2="80.46" y2="19.70" stroke="#000" stroke-width="1.00"/><line x1="80.46" y1="317.20" x2="80.46" y2="314.90" stroke="#000" stroke-width="1.00"/><line x1="80.46" y1="317.20" x2="80.46" y2="319.10" stroke="#000" stroke-width="1.00"/><line x1="80.46" y1="477.80" x2="80.46" y2="475.90" stroke="#000" stroke-width="1.00"/><line x1="87.58" y1="17.50" x2="87.58" y2="21.70" stroke="#000" stroke-width="1.00"/><line x1="87.58" y1="317.20" x2="87.58" y2="313.00" stroke="#000" stroke-width="1.00"/><line x1="87.58" y1="317.20" x2="87.58" y2="319.90" stroke="#000" stroke-width="1.00"/><line x1="87.58" y1="477.80" x2="87.58" y2="474.80" stroke="#000" stroke-width="1.00"/><line x1="94.70" y1="17.50" x2="94.70" y2="19.70" stroke="#000" stroke-width="1.00"/><line x1="94.70" y1="317.20" x2="94.70" y2="314.90" stroke="#000" stroke-width="1.00"/><line x1="94.70" y1="317.20" x2="94.70" y2="319.10" stroke="#000" stroke-width="1.00"/><line x1="94.70" y1="477.80" x2="94.70" y2="475.90" stroke="#000" stroke-width="1.00"/><line x1="101.82" y1="17.50" x2="101.82" y2="21.70" stroke="#000" stroke-width="1.00"/><line x1="101.82" y1="317.20" x2="101.82" y2="313.00" stroke="#000" stroke-width="1.00"/><line x1="101.82" y1="317.20" x2="101.82" y2="319.90" stroke="#000" stroke-width="1.00"/><line x1="101.82" y1="477.80" x2="101.82" y2="474.80" stroke="#000" stroke-width="1.00"/><line x1="108.94" y1="17.50" x2="108.94" y2="19.70" stroke="#000" stroke-width="1.00"/><line x1="108.94" y1="317.20" x2="108.94" y2="314.90" stroke="#000" stroke-width="1.00"/><line x1="108.94" y1="317.20" x2="108.94" y2="319.10" stroke="#000" stroke-width="1.00"/><line x1="108.94" y1="477.80" x2="108.94" y2="475.90" stroke="#000" stroke-width="1.00"/><line x1="116.06" y1="17.50" x2="116.06" y2="21.70" stroke="#000" stroke-width="1.00"/><line x1="116.06" y1="317.20" x2="116.06" y2="313.00" stroke="#000" stroke-width="1.00"/><line x1="116.06" y1="317.20" x2="116.06" y2="319.90" stroke="#000" stroke-width="1.00"/><line x1="116.06" y1="477.80" x2="116.06" y2="474.80" stroke="#000" stroke-width="1.00"/><line x1="123.18" y1="17.50" x2="123.18" y2="19.70" stroke="#000" stroke-width="1.00"/><line x1="123.18" y1="317.20" x2="123.18" y2="314.90" stroke="#000" stroke-width="1.00"/><line x1="123.18" y1="317.20" x2="123.18" y2="319.10" stroke="#000" stroke-width="1.00"/><line x1="123.18" y1="477.80" x2="123.18" y2="475.90" stroke="#000" stroke-width="1.00"/><line x1="130.30" y1="17.50" x2="130.30" y2="25.80" stroke="#000" stroke-width="1.10"/><line x1="130.30" y1="317.20" x2="130.30" y2="309.20" stroke="#000" stroke-width="1.10"/><line x1="130.30" y1="317.20" x2="130.30" y2="322.60" stroke="#000" stroke-width="1.10"/><line x1="130.30" y1="477.80" x2="130.30" y2="472.80" stroke="#000" stroke-width="1.10"/><line x1="137.42" y1="17.50" x2="137.42" y2="19.70" stroke="#000" stroke-width="1.00"/><line x1="137.42" y1="317.20" x2="137.42" y2="314.90" stroke="#000" stroke-width="1.00"/><line x1="137.42" y1="317.20" x2="137.42" y2="319.10" stroke="#000" stroke-width="1.00"/><line x1="137.42" y1="477.80" x2="137.42" y2="475.90" stroke="#000" stroke-width="1.00"/><line x1="144.54" y1="17.50" x2="144.54" y2="21.70" stroke="#000" stroke-width="1.00"/><line x1="144.54" y1="317.20" x2="144.54" y2="313.00" stroke="#000" stroke-width="1.00"/><line x1="144.54" y1="317.20" x2="144.54" y2="319.90" stroke="#000" stroke-width="1.00"/><line x1="144.54" y1="477.80" x2="144.54" y2="474.80" stroke="#000" stroke-width="1.00"/><line x1="151.66" y1="17.50" x2="151.66" y2="19.70" stroke="#000" stroke-width="1.00"/><line x1="151.66" y1="317.20" x2="151.66" y2="314.90" stroke="#000" stroke-width="1.00"/><line x1="151.66" y1="317.20" x2="151.66" y2="319.10" stroke="#000" stroke-width="1.00"/><line x1="151.66" y1="477.80" x2="151.66" y2="475.90" stroke="#000" stroke-width="1.00"/><line x1="158.78" y1="17.50" x2="158.78" y2="21.70" stroke="#000" stroke-width="1.00"/><line x1="158.78" y1="317.20" x2="158.78" y2="313.00" stroke="#000" stroke-width="1.00"/><line x1="158.78" y1="317.20" x2="158.78" y2="319.90" stroke="#000" stroke-width="1.00"/><line x1="158.78" y1="477.80" x2="158.78" y2="474.80" stroke="#000" stroke-width="1.00"/><line x1="165.90" y1="17.50" x2="165.90" y2="19.70" stroke="#000" stroke-width="1.00"/><line x1="165.90" y1="317.20" x2="165.90" y2="314.90" stroke="#000" stroke-width="1.00"/><line x1="165.90" y1="317.20" x2="165.90" y2="319.10" stroke="#000" stroke-width="1.00"/><line x1="165.90" y1="477.80" x2="165.90" y2="475.90" stroke="#000" stroke-width="1.00"/><line x1="173.02" y1="17.50" x2="173.02" y2="21.70" stroke="#000" stroke-width="1.00"/><line x1="173.02" y1="317.20" x2="173.02" y2="313.00" stroke="#000" stroke-width="1.00"/><line x1="173.02" y1="317.20" x2="173.02" y2="319.90" stroke="#000" stroke-width="1.00"/><line x1="173.02" y1="477.80" x2="173.02" y2="474.80" stroke="#000" stroke-width="1.00"/><line x1="180.14" y1="17.50" x2="180.14" y2="19.70" stroke="#000" stroke-width="1.00"/><line x1="180.14" y1="317.20" x2="180.14" y2="314.90" stroke="#000" stroke-width="1.00"/><line x1="180.14" y1="317.20" x2="180.14" y2="319.10" stroke="#000" stroke-width="1.00"/><line x1="180.14" y1="477.80" x2="180.14" y2="475.90" stroke="#000" stroke-width="1.00"/><line x1="187.26" y1="17.50" x2="187.26" y2="21.70" stroke="#000" stroke-width="1.00"/><line x1="187.26" y1="317.20" x2="187.26" y2="313.00" stroke="#000" stroke-width="1.00"/><line x1="187.26" y1="317.20" x2="187.26" y2="319.90" stroke="#000" stroke-width="1.00"/><line x1="187.26" y1="477.80" x2="187.26" y2="474.80" stroke="#000" stroke-width="1.00"/><line x1="194.38" y1="17.50" x2="194.38" y2="19.70" stroke="#000" stroke-width="1.00"/><line x1="194.38" y1="317.20" x2="194.38" y2="314.90" stroke="#000" stroke-width="1.00"/><line x1="194.38" y1="317.20" x2="194.38" y2="319.10" stroke="#000" stroke-width="1.00"/><line x1="194.38" y1="477.80" x2="194.38" y2="475.90" stroke="#000" stroke-width="1.00"/><line x1="201.50" y1="17.50" x2="201.50" y2="25.80" stroke="#000" stroke-width="1.10"/><line x1="201.50" y1="317.20" x2="201.50" y2="309.20" stroke="#000" stroke-width="1.10"/><line x1="201.50" y1="317.20" x2="201.50" y2="322.60" stroke="#000" stroke-width="1.10"/><line x1="201.50" y1="477.80" x2="201.50" y2="472.80" stroke="#000" stroke-width="1.10"/><line x1="208.62" y1="17.50" x2="208.62" y2="19.70" stroke="#000" stroke-width="1.00"/><line x1="208.62" y1="317.20" x2="208.62" y2="314.90" stroke="#000" stroke-width="1.00"/><line x1="208.62" y1="317.20" x2="208.62" y2="319.10" stroke="#000" stroke-width="1.00"/><line x1="208.62" y1="477.80" x2="208.62" y2="475.90" stroke="#000" stroke-width="1.00"/><line x1="215.74" y1="17.50" x2="215.74" y2="21.70" stroke="#000" stroke-width="1.00"/><line x1="215.74" y1="317.20" x2="215.74" y2="313.00" stroke="#000" stroke-width="1.00"/><line x1="215.74" y1="317.20" x2="215.74" y2="319.90" stroke="#000" stroke-width="1.00"/><line x1="215.74" y1="477.80" x2="215.74" y2="474.80" stroke="#000" stroke-width="1.00"/><line x1="222.86" y1="17.50" x2="222.86" y2="19.70" stroke="#000" stroke-width="1.00"/><line x1="222.86" y1="317.20" x2="222.86" y2="314.90" stroke="#000" stroke-width="1.00"/><line x1="222.86" y1="317.20" x2="222.86" y2="319.10" stroke="#000" stroke-width="1.00"/><line x1="222.86" y1="477.80" x2="222.86" y2="475.90" stroke="#000" stroke-width="1.00"/><line x1="229.98" y1="17.50" x2="229.98" y2="21.70" stroke="#000" stroke-width="1.00"/><line x1="229.98" y1="317.20" x2="229.98" y2="313.00" stroke="#000" stroke-width="1.00"/><line x1="229.98" y1="317.20" x2="229.98" y2="319.90" stroke="#000" stroke-width="1.00"/><line x1="229.98" y1="477.80" x2="229.98" y2="474.80" stroke="#000" stroke-width="1.00"/><line x1="237.10" y1="17.50" x2="237.10" y2="19.70" stroke="#000" stroke-width="1.00"/><line x1="237.10" y1="317.20" x2="237.10" y2="314.90" stroke="#000" stroke-width="1.00"/><line x1="237.10" y1="317.20" x2="237.10" y2="319.10" stroke="#000" stroke-width="1.00"/><line x1="237.10" y1="477.80" x2="237.10" y2="475.90" stroke="#000" stroke-width="1.00"/><line x1="244.22" y1="17.50" x2="244.22" y2="21.70" stroke="#000" stroke-width="1.00"/><line x1="244.22" y1="317.20" x2="244.22" y2="313.00" stroke="#000" stroke-width="1.00"/><line x1="244.22" y1="317.20" x2="244.22" y2="319.90" stroke="#000" stroke-width="1.00"/><line x1="244.22" y1="477.80" x2="244.22" y2="474.80" stroke="#000" stroke-width="1.00"/><line x1="251.34" y1="17.50" x2="251.34" y2="19.70" stroke="#000" stroke-width="1.00"/><line x1="251.34" y1="317.20" x2="251.34" y2="314.90" stroke="#000" stroke-width="1.00"/><line x1="251.34" y1="317.20" x2="251.34" y2="319.10" stroke="#000" stroke-width="1.00"/><line x1="251.34" y1="477.80" x2="251.34" y2="475.90" stroke="#000" stroke-width="1.00"/><line x1="258.46" y1="17.50" x2="258.46" y2="21.70" stroke="#000" stroke-width="1.00"/><line x1="258.46" y1="317.20" x2="258.46" y2="313.00" stroke="#000" stroke-width="1.00"/><line x1="258.46" y1="317.20" x2="258.46" y2="319.90" stroke="#000" stroke-width="1.00"/><line x1="258.46" y1="477.80" x2="258.46" y2="474.80" stroke="#000" stroke-width="1.00"/><line x1="265.58" y1="17.50" x2="265.58" y2="19.70" stroke="#000" stroke-width="1.00"/><line x1="265.58" y1="317.20" x2="265.58" y2="314.90" stroke="#000" stroke-width="1.00"/><line x1="265.58" y1="317.20" x2="265.58" y2="319.10" stroke="#000" stroke-width="1.00"/><line x1="265.58" y1="477.80" x2="265.58" y2="475.90" stroke="#000" stroke-width="1.00"/><line x1="272.70" y1="17.50" x2="272.70" y2="25.80" stroke="#000" stroke-width="1.10"/><line x1="272.70" y1="317.20" x2="272.70" y2="309.20" stroke="#000" stroke-width="1.10"/><line x1="272.70" y1="317.20" x2="272.70" y2="322.60" stroke="#000" stroke-width="1.10"/><line x1="272.70" y1="477.80" x2="272.70" y2="472.80" stroke="#000" stroke-width="1.10"/><line x1="279.82" y1="17.50" x2="279.82" y2="19.70" stroke="#000" stroke-width="1.00"/><line x1="279.82" y1="317.20" x2="279.82" y2="314.90" stroke="#000" stroke-width="1.00"/><line x1="279.82" y1="317.20" x2="279.82" y2="319.10" stroke="#000" stroke-width="1.00"/><line x1="279.82" y1="477.80" x2="279.82" y2="475.90" stroke="#000" stroke-width="1.00"/><line x1="286.94" y1="17.50" x2="286.94" y2="21.70" stroke="#000" stroke-width="1.00"/><line x1="286.94" y1="317.20" x2="286.94" y2="313.00" stroke="#000" stroke-width="1.00"/><line x1="286.94" y1="317.20" x2="286.94" y2="319.90" stroke="#000" stroke-width="1.00"/><line x1="286.94" y1="477.80" x2="286.94" y2="474.80" stroke="#000" stroke-width="1.00"/><line x1="294.06" y1="17.50" x2="294.06" y2="19.70" stroke="#000" stroke-width="1.00"/><line x1="294.06" y1="317.20" x2="294.06" y2="314.90" stroke="#000" stroke-width="1.00"/><line x1="294.06" y1="317.20" x2="294.06" y2="319.10" stroke="#000" stroke-width="1.00"/><line x1="294.06" y1="477.80" x2="294.06" y2="475.90" stroke="#000" stroke-width="1.00"/><line x1="301.18" y1="17.50" x2="301.18" y2="21.70" stroke="#000" stroke-width="1.00"/><line x1="301.18" y1="317.20" x2="301.18" y2="313.00" stroke="#000" stroke-width="1.00"/><line x1="301.18" y1="317.20" x2="301.18" y2="319.90" stroke="#000" stroke-width="1.00"/><line x1="301.18" y1="477.80" x2="301.18" y2="474.80" stroke="#000" stroke-width="1.00"/><line x1="308.30" y1="17.50" x2="308.30" y2="19.70" stroke="#000" stroke-width="1.00"/><line x1="308.30" y1="317.20" x2="308.30" y2="314.90" stroke="#000" stroke-width="1.00"/><line x1="308.30" y1="317.20" x2="308.30" y2="319.10" stroke="#000" stroke-width="1.00"/><line x1="308.30" y1="477.80" x2="308.30" y2="475.90" stroke="#000" stroke-width="1.00"/><line x1="315.42" y1="17.50" x2="315.42" y2="21.70" stroke="#000" stroke-width="1.00"/><line x1="315.42" y1="317.20" x2="315.42" y2="313.00" stroke="#000" stroke-width="1.00"/><line x1="315.42" y1="317.20" x2="315.42" y2="319.90" stroke="#000" stroke-width="1.00"/><line x1="315.42" y1="477.80" x2="315.42" y2="474.80" stroke="#000" stroke-width="1.00"/><line x1="322.54" y1="17.50" x2="322.54" y2="19.70" stroke="#000" stroke-width="1.00"/><line x1="322.54" y1="317.20" x2="322.54" y2="314.90" stroke="#000" stroke-width="1.00"/><line x1="322.54" y1="317.20" x2="322.54" y2="319.10" stroke="#000" stroke-width="1.00"/><line x1="322.54" y1="477.80" x2="322.54" y2="475.90" stroke="#000" stroke-width="1.00"/><line x1="329.66" y1="17.50" x2="329.66" y2="21.70" stroke="#000" stroke-width="1.00"/><line x1="329.66" y1="317.20" x2="329.66" y2="313.00" stroke="#000" stroke-width="1.00"/><line x1="329.66" y1="317.20" x2="329.66" y2="319.90" stroke="#000" stroke-width="1.00"/><line x1="329.66" y1="477.80" x2="329.66" y2="474.80" stroke="#000" stroke-width="1.00"/><line x1="336.78" y1="17.50" x2="336.78" y2="19.70" stroke="#000" stroke-width="1.00"/><line x1="336.78" y1="317.20" x2="336.78" y2="314.90" stroke="#000" stroke-width="1.00"/><line x1="336.78" y1="317.20" x2="336.78" y2="319.10" stroke="#000" stroke-width="1.00"/><line x1="336.78" y1="477.80" x2="336.78" y2="475.90" stroke="#000" stroke-width="1.00"/><line x1="343.90" y1="17.50" x2="343.90" y2="25.80" stroke="#000" stroke-width="1.10"/><line x1="343.90" y1="317.20" x2="343.90" y2="309.20" stroke="#000" stroke-width="1.10"/><line x1="343.90" y1="317.20" x2="343.90" y2="322.60" stroke="#000" stroke-width="1.10"/><line x1="343.90" y1="477.80" x2="343.90" y2="472.80" stroke="#000" stroke-width="1.10"/><line x1="351.02" y1="17.50" x2="351.02" y2="19.70" stroke="#000" stroke-width="1.00"/><line x1="351.02" y1="317.20" x2="351.02" y2="314.90" stroke="#000" stroke-width="1.00"/><line x1="351.02" y1="317.20" x2="351.02" y2="319.10" stroke="#000" stroke-width="1.00"/><line x1="351.02" y1="477.80" x2="351.02" y2="475.90" stroke="#000" stroke-width="1.00"/><line x1="358.14" y1="17.50" x2="358.14" y2="21.70" stroke="#000" stroke-width="1.00"/><line x1="358.14" y1="317.20" x2="358.14" y2="313.00" stroke="#000" stroke-width="1.00"/><line x1="358.14" y1="317.20" x2="358.14" y2="319.90" stroke="#000" stroke-width="1.00"/><line x1="358.14" y1="477.80" x2="358.14" y2="474.80" stroke="#000" stroke-width="1.00"/><line x1="365.26" y1="17.50" x2="365.26" y2="19.70" stroke="#000" stroke-width="1.00"/><line x1="365.26" y1="317.20" x2="365.26" y2="314.90" stroke="#000" stroke-width="1.00"/><line x1="365.26" y1="317.20" x2="365.26" y2="319.10" stroke="#000" stroke-width="1.00"/><line x1="365.26" y1="477.80" x2="365.26" y2="475.90" stroke="#000" stroke-width="1.00"/><line x1="45.50" y1="301.65" x2="51.00" y2="301.65" stroke="#000" stroke-width="1.00"/><line x1="371.10" y1="301.65" x2="365.60" y2="301.65" stroke="#000" stroke-width="1.00"/><line x1="45.50" y1="291.29" x2="51.00" y2="291.29" stroke="#000" stroke-width="1.00"/><line x1="371.10" y1="291.29" x2="365.60" y2="291.29" stroke="#000" stroke-width="1.00"/><line x1="45.50" y1="283.26" x2="51.00" y2="283.26" stroke="#000" stroke-width="1.00"/><line x1="371.10" y1="283.26" x2="365.60" y2="283.26" stroke="#000" stroke-width="1.00"/><line x1="45.50" y1="276.69" x2="51.00" y2="276.69" stroke="#000" stroke-width="1.00"/><line x1="371.10" y1="276.69" x2="365.60" y2="276.69" stroke="#000" stroke-width="1.00"/><line x1="45.50" y1="271.14" x2="51.00" y2="271.14" stroke="#000" stroke-width="1.00"/><line x1="371.10" y1="271.14" x2="365.60" y2="271.14" stroke="#000" stroke-width="1.00"/><line x1="45.50" y1="266.33" x2="51.00" y2="266.33" stroke="#000" stroke-width="1.00"/><line x1="371.10" y1="266.33" x2="365.60" y2="266.33" stroke="#000" stroke-width="1.00"/><line x1="45.50" y1="262.09" x2="51.00" y2="262.09" stroke="#000" stroke-width="1.00"/><line x1="371.10" y1="262.09" x2="365.60" y2="262.09" stroke="#000" stroke-width="1.00"/><line x1="45.50" y1="258.30" x2="56.80" y2="258.30" stroke="#000" stroke-width="1.00"/><line x1="371.10" y1="258.30" x2="359.80" y2="258.30" stroke="#000" stroke-width="1.00"/><line x1="45.50" y1="233.34" x2="51.00" y2="233.34" stroke="#000" stroke-width="1.00"/><line x1="371.10" y1="233.34" x2="365.60" y2="233.34" stroke="#000" stroke-width="1.00"/><line x1="45.50" y1="218.75" x2="51.00" y2="218.75" stroke="#000" stroke-width="1.00"/><line x1="371.10" y1="218.75" x2="365.60" y2="218.75" stroke="#000" stroke-width="1.00"/><line x1="45.50" y1="208.39" x2="51.00" y2="208.39" stroke="#000" stroke-width="1.00"/><line x1="371.10" y1="208.39" x2="365.60" y2="208.39" stroke="#000" stroke-width="1.00"/><line x1="45.50" y1="200.36" x2="51.00" y2="200.36" stroke="#000" stroke-width="1.00"/><line x1="371.10" y1="200.36" x2="365.60" y2="200.36" stroke="#000" stroke-width="1.00"/><line x1="45.50" y1="193.79" x2="51.00" y2="193.79" stroke="#000" stroke-width="1.00"/><line x1="371.10" y1="193.79" x2="365.60" y2="193.79" stroke="#000" stroke-width="1.00"/><line x1="45.50" y1="188.24" x2="51.00" y2="188.24" stroke="#000" stroke-width="1.00"/><line x1="371.10" y1="188.24" x2="365.60" y2="188.24" stroke="#000" stroke-width="1.00"/><line x1="45.50" y1="183.43" x2="51.00" y2="183.43" stroke="#000" stroke-width="1.00"/><line x1="371.10" y1="183.43" x2="365.60" y2="183.43" stroke="#000" stroke-width="1.00"/><line x1="45.50" y1="179.19" x2="51.00" y2="179.19" stroke="#000" stroke-width="1.00"/><line x1="371.10" y1="179.19" x2="365.60" y2="179.19" stroke="#000" stroke-width="1.00"/><line x1="45.50" y1="175.40" x2="56.80" y2="175.40" stroke="#000" stroke-width="1.00"/><line x1="371.10" y1="175.40" x2="359.80" y2="175.40" stroke="#000" stroke-width="1.00"/><line x1="45.50" y1="150.44" x2="51.00" y2="150.44" stroke="#000" stroke-width="1.00"/><line x1="371.10" y1="150.44" x2="365.60" y2="150.44" stroke="#000" stroke-width="1.00"/><line x1="45.50" y1="135.85" x2="51.00" y2="135.85" stroke="#000" stroke-width="1.00"/><line x1="371.10" y1="135.85" x2="365.60" y2="135.85" stroke="#000" stroke-width="1.00"/><line x1="45.50" y1="125.49" x2="51.00" y2="125.49" stroke="#000" stroke-width="1.00"/><line x1="371.10" y1="125.49" x2="365.60" y2="125.49" stroke="#000" stroke-width="1.00"/><line x1="45.50" y1="117.46" x2="51.00" y2="117.46" stroke="#000" stroke-width="1.00"/><line x1="371.10" y1="117.46" x2="365.60" y2="117.46" stroke="#000" stroke-width="1.00"/><line x1="45.50" y1="110.89" x2="51.00" y2="110.89" stroke="#000" stroke-width="1.00"/><line x1="371.10" y1="110.89" x2="365.60" y2="110.89" stroke="#000" stroke-width="1.00"/><line x1="45.50" y1="105.34" x2="51.00" y2="105.34" stroke="#000" stroke-width="1.00"/><line x1="371.10" y1="105.34" x2="365.60" y2="105.34" stroke="#000" stroke-width="1.00"/><line x1="45.50" y1="100.53" x2="51.00" y2="100.53" stroke="#000" stroke-width="1.00"/><line x1="371.10" y1="100.53" x2="365.60" y2="100.53" stroke="#000" stroke-width="1.00"/><line x1="45.50" y1="96.29" x2="51.00" y2="96.29" stroke="#000" stroke-width="1.00"/><line x1="371.10" y1="96.29" x2="365.60" y2="96.29" stroke="#000" stroke-width="1.00"/><line x1="45.50" y1="92.50" x2="56.80" y2="92.50" stroke="#000" stroke-width="1.00"/><line x1="371.10" y1="92.50" x2="359.80" y2="92.50" stroke="#000" stroke-width="1.00"/><line x1="45.50" y1="67.54" x2="51.00" y2="67.54" stroke="#000" stroke-width="1.00"/><line x1="371.10" y1="67.54" x2="365.60" y2="67.54" stroke="#000" stroke-width="1.00"/><line x1="45.50" y1="52.95" x2="51.00" y2="52.95" stroke="#000" stroke-width="1.00"/><line x1="371.10" y1="52.95" x2="365.60" y2="52.95" stroke="#000" stroke-width="1.00"/><line x1="45.50" y1="42.59" x2="51.00" y2="42.59" stroke="#000" stroke-width="1.00"/><line x1="371.10" y1="42.59" x2="365.60" y2="42.59" stroke="#000" stroke-width="1.00"/><line x1="45.50" y1="34.56" x2="51.00" y2="34.56" stroke="#000" stroke-width="1.00"/><line x1="371.10" y1="34.56" x2="365.60" y2="34.56" stroke="#000" stroke-width="1.00"/><line x1="45.50" y1="27.99" x2="51.00" y2="27.99" stroke="#000" stroke-width="1.00"/><line x1="371.10" y1="27.99" x2="365.60" y2="27.99" stroke="#000" stroke-width="1.00"/><line x1="45.50" y1="22.44" x2="51.00" y2="22.44" stroke="#000" stroke-width="1.00"/><line x1="371.10" y1="22.44" x2="365.60" y2="22.44" stroke="#000" stroke-width="1.00"/><line x1="45.50" y1="458.51" x2="52.80" y2="458.51" stroke="#000" stroke-width="1.00"/><line x1="371.10" y1="458.51" x2="363.80" y2="458.51" stroke="#000" stroke-width="1.00"/><line x1="45.50" y1="442.59" x2="50.80" y2="442.59" stroke="#000" stroke-width="1.00"/><line x1="371.10" y1="442.59" x2="365.80" y2="442.59" stroke="#000" stroke-width="1.00"/><line x1="45.50" y1="429.14" x2="50.80" y2="429.14" stroke="#000" stroke-width="1.00"/><line x1="371.10" y1="429.14" x2="365.80" y2="429.14" stroke="#000" stroke-width="1.00"/><line x1="45.50" y1="417.48" x2="50.80" y2="417.48" stroke="#000" stroke-width="1.00"/><line x1="371.10" y1="417.48" x2="365.80" y2="417.48" stroke="#000" stroke-width="1.00"/><line x1="45.50" y1="407.20" x2="50.80" y2="407.20" stroke="#000" stroke-width="1.00"/><line x1="371.10" y1="407.20" x2="365.80" y2="407.20" stroke="#000" stroke-width="1.00"/><line x1="45.50" y1="398.00" x2="52.80" y2="398.00" stroke="#000" stroke-width="1.00"/><line x1="371.10" y1="398.00" x2="363.80" y2="398.00" stroke="#000" stroke-width="1.00"/><line x1="45.50" y1="389.68" x2="50.80" y2="389.68" stroke="#000" stroke-width="1.00"/><line x1="371.10" y1="389.68" x2="365.80" y2="389.68" stroke="#000" stroke-width="1.00"/><line x1="45.50" y1="382.08" x2="50.80" y2="382.08" stroke="#000" stroke-width="1.00"/><line x1="371.10" y1="382.08" x2="365.80" y2="382.08" stroke="#000" stroke-width="1.00"/><line x1="45.50" y1="375.10" x2="50.80" y2="375.10" stroke="#000" stroke-width="1.00"/><line x1="371.10" y1="375.10" x2="365.80" y2="375.10" stroke="#000" stroke-width="1.00"/><line x1="45.50" y1="368.63" x2="50.80" y2="368.63" stroke="#000" stroke-width="1.00"/><line x1="371.10" y1="368.63" x2="365.80" y2="368.63" stroke="#000" stroke-width="1.00"/><line x1="45.50" y1="362.61" x2="52.80" y2="362.61" stroke="#000" stroke-width="1.00"/><line x1="371.10" y1="362.61" x2="363.80" y2="362.61" stroke="#000" stroke-width="1.00"/><line x1="45.50" y1="356.97" x2="50.80" y2="356.97" stroke="#000" stroke-width="1.00"/><line x1="371.10" y1="356.97" x2="365.80" y2="356.97" stroke="#000" stroke-width="1.00"/><line x1="45.50" y1="351.68" x2="50.80" y2="351.68" stroke="#000" stroke-width="1.00"/><line x1="371.10" y1="351.68" x2="365.80" y2="351.68" stroke="#000" stroke-width="1.00"/><line x1="45.50" y1="346.69" x2="50.80" y2="346.69" stroke="#000" stroke-width="1.00"/><line x1="371.10" y1="346.69" x2="365.80" y2="346.69" stroke="#000" stroke-width="1.00"/><line x1="45.50" y1="341.97" x2="50.80" y2="341.97" stroke="#000" stroke-width="1.00"/><line x1="371.10" y1="341.97" x2="365.80" y2="341.97" stroke="#000" stroke-width="1.00"/><line x1="45.50" y1="337.49" x2="52.80" y2="337.49" stroke="#000" stroke-width="1.00"/><line x1="371.10" y1="337.49" x2="363.80" y2="337.49" stroke="#000" stroke-width="1.00"/><line x1="45.50" y1="333.23" x2="50.80" y2="333.23" stroke="#000" stroke-width="1.00"/><line x1="371.10" y1="333.23" x2="365.80" y2="333.23" stroke="#000" stroke-width="1.00"/><line x1="45.50" y1="329.17" x2="50.80" y2="329.17" stroke="#000" stroke-width="1.00"/><line x1="371.10" y1="329.17" x2="365.80" y2="329.17" stroke="#000" stroke-width="1.00"/><line x1="45.50" y1="325.29" x2="50.80" y2="325.29" stroke="#000" stroke-width="1.00"/><line x1="371.10" y1="325.29" x2="365.80" y2="325.29" stroke="#000" stroke-width="1.00"/><line x1="45.50" y1="321.58" x2="50.80" y2="321.58" stroke="#000" stroke-width="1.00"/><line x1="371.10" y1="321.58" x2="365.80" y2="321.58" stroke="#000" stroke-width="1.00"/><text x="51.30" y="13.90" font-size="12.60" fill="#000" textLength="78.60" lengthAdjust="spacing">13000 GeV pp</text><text x="334.60" y="13.80" font-size="12.60" fill="#000" textLength="30.60" lengthAdjust="spacing">Z+Jet</text><text x="84.00" y="42.00" font-size="12.50" fill="#000" textLength="131.20" lengthAdjust="spacing">Transmax region, 60 &lt; p</text><text x="212.80" y="35.40" font-size="8.00" text-anchor="start" fill="#000">Z</text><text x="212.60" y="48.70" font-size="8.00" text-anchor="start" fill="#000">T</text><text x="220.60" y="42.00" font-size="12.50" fill="#000" textLength="112.00" lengthAdjust="spacing">&lt; 80 [GeV], inclusive</text><text x="39.60" y="97.00" font-size="11.00" text-anchor="end" fill="#000">1</text><text x="21.40" y="181.20" font-size="11.10" fill="#000" textLength="11.40" lengthAdjust="spacing">10</text><text x="32.90" y="176.60" font-size="7.50" fill="#000" textLength="7.20" lengthAdjust="spacing">−1</text><text x="21.40" y="264.10" font-size="11.10" fill="#000" textLength="11.40" lengthAdjust="spacing">10</text><text x="32.90" y="259.30" font-size="7.50" fill="#000" textLength="7.20" lengthAdjust="spacing">−2</text><text x="38.40" y="341.00" font-size="11.60" text-anchor="end" fill="#000">2</text><text x="38.70" y="402.60" font-size="11.60" text-anchor="end" fill="#000">1</text><text x="38.60" y="462.10" font-size="11.60" text-anchor="end" fill="#000">0.5</text><text x="374.20" y="341.00" font-size="11.60" text-anchor="start" fill="#000">2</text><text x="373.60" y="402.80" font-size="11.60" text-anchor="start" fill="#000">1</text><text x="374.00" y="462.10" font-size="11.60" text-anchor="start" fill="#000">0.5</text><text x="59.20" y="489.30" font-size="11.60" text-anchor="middle" fill="#000">0</text><text x="130.40" y="489.30" font-size="11.60" text-anchor="middle" fill="#000">1</text><text x="201.60" y="489.30" font-size="11.60" text-anchor="middle" fill="#000">2</text><text x="272.80" y="489.30" font-size="11.60" text-anchor="middle" fill="#000">3</text><text x="344.00" y="489.30" font-size="11.60" text-anchor="middle" fill="#000">4</text><text x="318.30" y="502.30" font-size="12.00" text-anchor="start" fill="#000">N</text><text x="325.20" y="506.40" font-size="8.40" text-anchor="start" fill="#000">ch</text><text x="333.40" y="502.30" font-size="12.00" fill="#000" textLength="35.00" lengthAdjust="spacing">/dη dϕ</text><g transform="translate(14.8,131.5) rotate(-90)"><text x="-0.80" y="0.00" font-size="11.40" fill="#000" textLength="17.90" lengthAdjust="spacing">1/N</text><text x="16.90" y="3.10" font-size="7.80" text-anchor="start" fill="#000">ev</text><text x="28.40" y="0.00" font-size="11.40" fill="#000" textLength="15.60" lengthAdjust="spacing">dN</text><text x="43.40" y="3.10" font-size="7.80" text-anchor="start" fill="#000">ev</text><text x="51.40" y="0.00" font-size="11.40" fill="#000" textLength="19.00" lengthAdjust="spacing">/dN</text><text x="70.60" y="3.10" font-size="7.80" text-anchor="start" fill="#000">ch</text><text x="78.20" y="0.00" font-size="11.40" fill="#000" textLength="32.80" lengthAdjust="spacing">/dη dϕ</text></g><g transform="translate(18.0,426.8) rotate(-90)"><text x="0.00" y="0.00" font-size="9.00" fill="#000" textLength="60.90" lengthAdjust="spacing">Ratio to ATLAS</text></g><g transform="translate(380.4,127.0) rotate(-90)"><text x="0.00" y="0.00" font-size="9.50" fill="#8c8c8c" textLength="109.70" lengthAdjust="spacing">Rivet 4.1.0, ≥ 2.4M events</text></g><g transform="translate(380.6,313.2) rotate(-90)"><text x="0.00" y="0.00" font-size="9.50" fill="#8c8c8c" textLength="146.40" lengthAdjust="spacing">mcplots.cern.ch [arXiv:2401.10621]</text></g><text x="162.40" y="302.60" font-size="8.60" fill="#9a9a9a" textLength="90.40" lengthAdjust="spacing">(ATLAS_2019_I1736531)</text><rect x="73.90" y="221.60" width="5.20" height="5.20" fill="#000"/><text x="93.90" y="226.90" font-size="9.50" fill="#000" textLength="29.30" lengthAdjust="spacing">ATLAS</text><line x1="64.20" y1="237.10" x2="89.00" y2="237.10" stroke="#b54a5c" stroke-width="1.20"/><polygon points="76.5,234.3 73.7,239.7 79.3,239.7" fill="#fff" stroke="#a3001e" stroke-width="1.1"/><line x1="64.2" y1="250.0" x2="89" y2="250.0" stroke="#8f707c" stroke-width="1.2" stroke-dasharray="4,2,1,2"/><rect x="74.1" y="247.6" width="4.8" height="4.8" fill="#fff" stroke="#6c4152" stroke-width="1.1"/><line x1="64.2" y1="263.0" x2="89" y2="263.0" stroke="#ff9d6b" stroke-width="1.2" stroke-dasharray="4,2,1,2"/><rect x="74.30" y="260.80" width="4.40" height="4.40" fill="#ff7230"/><line x1="64.20" y1="276.20" x2="89.00" y2="276.20" stroke="#4a4aff" stroke-width="1.20"/><polygon points="76.50,273.90 73.90,278.71 79.10,278.71" fill="#0000ee"/><text x="93.90" y="239.70" font-size="9.40" fill="#000" textLength="71.20" lengthAdjust="spacing">Pythia 6.428 370</text><text x="93.90" y="252.60" font-size="9.40" fill="#000" textLength="70.30" lengthAdjust="spacing">Pythia 6.428 391</text><text x="93.90" y="265.60" font-size="9.40" fill="#000" textLength="84.60" lengthAdjust="spacing">Pythia 6.428 default</text><text x="93.90" y="278.80" font-size="9.40" fill="#000" textLength="84.60" lengthAdjust="spacing">Pythia 8.315 default</text></svg></body></html>
